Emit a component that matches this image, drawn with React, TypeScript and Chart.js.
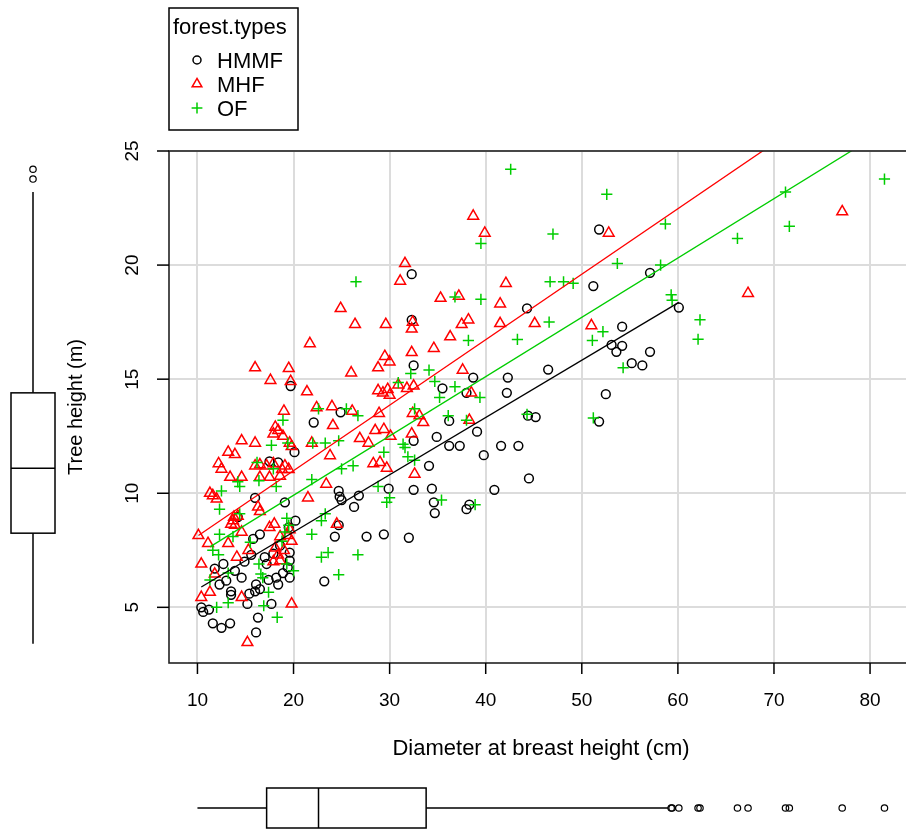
import React, { useEffect, useRef } from "react";
import { Chart, registerables } from "chart.js";

Chart.register(...registerables);

// ---- data: [DBH (cm), tree height (m)] per forest type ----
const groupNames = ["HMMF", "MHF", "OF"];

const hmmf: [number, number][] = [
  [19.7, 14.7], [24.9, 13.55], [22.1, 13.1], [20.1, 11.8], [17.5, 11.4], [18.4, 11.35], [16.0, 9.8], [19.1, 9.6],
  [24.7, 10.1], [24.8, 9.85], [25.0, 9.7], [26.8, 9.9], [26.3, 9.4], [29.9, 10.2], [20.2, 8.8], [19.5, 8.5],
  [24.7, 8.6], [24.3, 8.1], [27.6, 8.1], [29.4, 8.2], [32.0, 8.05], [16.5, 8.2], [14.2, 8.95], [15.6, 7.3],
  [17.0, 7.2], [17.9, 7.35], [19.6, 7.4], [19.6, 7.05], [19.4, 6.75], [12.7, 6.9], [11.8, 6.7], [13.0, 6.17],
  [13.5, 5.7], [13.5, 5.55], [15.4, 5.6], [15.2, 5.15], [16.1, 6.0], [16.5, 5.8], [16.0, 5.7], [17.4, 6.2],
  [18.4, 6.0], [18.2, 6.3], [19.6, 6.3], [17.7, 5.15], [23.2, 6.14], [10.4, 5.0], [10.6, 4.8], [11.2, 4.9],
  [11.6, 4.3], [12.5, 4.1], [13.4, 4.3], [16.3, 4.55], [16.1, 3.9], [14.9, 7.0], [13.9, 6.6], [18.9, 6.5],
  [17.2, 6.9], [15.8, 8.0], [18.6, 7.7], [12.3, 6.0], [14.6, 6.3],
  [51.8, 21.56], [32.3, 19.6], [57.1, 19.66], [51.2, 19.08], [44.3, 18.1], [32.3, 17.6], [54.2, 17.3], [53.1, 16.5],
  [54.2, 16.46], [53.6, 16.2], [55.2, 15.7], [56.3, 15.6], [57.1, 16.2], [32.5, 15.6], [38.7, 15.07], [42.3, 15.07],
  [46.5, 15.42], [35.5, 14.6], [38.0, 14.4], [42.2, 14.4], [52.5, 14.34], [36.2, 13.17], [45.2, 13.34], [44.4, 13.4],
  [51.8, 13.14], [32.5, 12.3], [34.9, 12.47], [36.2, 12.08], [37.3, 12.08], [39.1, 12.7], [39.8, 11.67], [41.6, 12.08],
  [43.4, 12.08], [34.1, 11.2], [44.5, 10.65], [40.9, 10.15], [32.5, 10.15], [34.4, 10.2], [34.6, 9.6], [34.7, 9.13],
  [38.0, 9.3], [38.3, 9.5], [60.1, 18.14],
];

const mhf: [number, number][] = [
  [31.6, 20.07], [31.1, 19.3], [24.9, 18.1], [26.4, 17.4], [29.6, 17.4], [21.7, 16.56], [29.5, 16.0], [30.0, 15.76],
  [28.8, 15.5], [16.0, 15.5], [19.5, 15.47], [17.6, 14.95], [26.0, 15.28], [19.7, 14.9],
  [21.4, 14.45], [28.8, 14.5], [29.3, 14.4], [29.8, 14.55], [30.0, 14.3], [30.9, 14.75], [19.0, 13.6], [22.4, 13.75],
  [24.0, 13.8], [26.1, 13.6], [24.1, 12.97], [28.9, 13.5], [18.1, 12.9], [18.4, 12.75], [17.9, 12.6], [18.9, 12.5],
  [14.6, 12.3], [16.0, 12.2], [19.6, 12.2], [19.8, 12.05], [21.9, 12.2], [23.8, 11.65], [26.9, 12.4], [27.8, 12.2],
  [28.5, 12.75], [29.4, 12.8], [30.1, 12.5], [13.2, 11.8], [13.9, 11.7], [12.2, 11.3], [12.5, 11.06], [16.0, 11.2],
  [16.5, 11.25], [17.2, 11.2], [17.9, 11.3], [19.1, 11.2], [19.5, 11.05], [18.8, 11.05], [13.4, 10.7], [11.6, 9.9],
  [12.0, 9.75], [14.6, 10.7], [16.5, 10.7], [17.5, 10.7], [18.6, 10.75], [23.4, 10.4], [21.5, 9.8], [29.0, 11.35],
  [29.7, 11.1], [28.3, 11.3], [13.7, 8.8], [13.8, 8.95], [13.5, 8.65], [16.3, 9.4], [16.5, 9.2], [14.6, 8.3],
  [10.1, 8.15], [11.1, 7.8], [13.2, 7.8], [14.1, 7.2], [15.3, 7.5], [17.5, 8.5], [18.0, 8.65], [18.6, 8.1],
  [19.4, 8.15], [19.8, 7.9], [17.9, 7.0], [18.6, 7.05], [24.5, 8.65], [10.4, 6.9], [11.8, 6.46], [11.3, 5.66],
  [10.4, 5.44], [14.6, 5.44], [19.8, 5.15], [15.2, 3.46], [18.1, 7.6], [19.0, 7.5], [18.4, 7.3], [19.6, 8.4],
  [13.9, 8.6], [14.2, 9.0], [11.3, 10.0],
  [38.7, 22.15], [39.9, 21.4], [52.8, 21.4], [42.1, 19.2], [37.2, 18.64], [35.3, 18.55], [41.5, 18.3], [38.2, 17.6],
  [37.5, 17.4], [32.4, 17.5], [32.3, 17.2], [41.5, 17.44], [45.1, 17.44], [51.0, 17.35], [36.3, 16.86], [32.3, 16.17],
  [34.6, 16.35], [37.6, 15.4], [32.5, 14.7], [31.8, 14.6], [38.5, 14.4], [32.4, 13.5], [33.1, 13.4], [33.5, 13.1],
  [38.3, 13.2], [32.3, 12.6], [32.6, 10.84], [77.1, 22.34], [67.3, 18.76],
];

const of: [number, number][] = [
  [26.5, 19.27], [30.9, 14.85], [22.6, 13.7], [25.5, 13.7], [26.7, 13.4], [18.9, 13.2], [17.7, 12.1], [19.4, 12.2],
  [22.0, 12.2], [23.3, 12.2], [24.7, 12.3], [29.4, 11.8], [31.6, 12.0], [16.2, 11.35], [14.2, 10.5], [14.4, 10.3],
  [12.5, 10.1], [16.4, 10.55], [18.2, 10.3], [17.9, 11.07], [21.9, 10.6], [25.0, 11.07], [26.2, 11.2], [28.8, 10.3],
  [30.0, 9.8], [29.7, 9.6], [12.3, 9.3], [14.4, 9.1], [12.3, 8.2], [12.2, 7.3], [13.7, 8.1], [15.5, 7.85],
  [19.3, 8.9], [19.1, 8.3], [18.8, 7.9], [21.9, 8.2], [22.9, 8.8], [23.3, 9.1], [11.6, 7.5], [11.3, 6.2],
  [13.2, 6.5], [16.4, 6.9], [16.6, 6.46], [16.8, 6.3], [19.3, 6.9], [20.0, 6.6], [22.9, 7.2], [23.6, 7.4],
  [26.7, 7.3], [24.7, 6.43], [12.0, 5.0], [13.2, 5.2], [16.9, 5.07], [17.4, 5.66], [18.3, 4.56], [19.5, 8.6],
  [42.6, 24.2], [52.6, 23.1], [39.5, 20.95], [47.0, 21.36], [53.7, 20.07], [46.7, 19.27], [48.1, 19.27], [49.1, 19.2],
  [36.8, 18.6], [39.5, 18.5], [46.6, 17.5], [52.2, 17.08], [51.1, 16.7], [38.2, 16.7], [43.3, 16.74], [54.3, 15.5],
  [34.1, 15.4], [32.2, 15.25], [34.7, 14.9], [36.8, 14.67], [35.2, 14.2], [39.4, 14.2], [36.1, 13.4], [38.0, 13.2],
  [44.3, 13.46], [51.2, 13.3], [32.6, 13.7], [31.4, 12.15], [31.9, 11.6], [32.6, 11.45], [35.4, 9.7], [38.9, 9.5],
  [81.5, 23.77], [71.2, 23.2], [71.6, 21.7], [58.7, 21.8], [66.2, 21.17], [58.2, 20.0], [59.3, 18.7], [59.4, 18.46],
  [62.3, 17.6], [62.1, 16.75],
];

// per-group linear fits (intercept, slope)
const fitIntercepts = [3.28, 5.25, 4.71];
const fitSlopes = [0.251, 0.287, 0.26];

// marginal boxplot five-number summaries (lower whisker, Q1, median, Q3, upper whisker)
const dbhBox = [10.0, 17.2, 22.6, 33.8, 59.0];
const heightBox = [3.4, 8.25, 11.1, 14.4, 23.2];

const xTicks = [10, 20, 30, 40, 50, 60, 70, 80];
const yTicks = [5, 10, 15, 20, 25];
const xTitle = "Diameter at breast height (cm)";
const yTitle = "Tree height (m)";
const legendTitle = "forest.types";

const colors = ["#000000", "#ff0000", "#00cd00"];
const styles = ["circle", "triangle", "cross"];
const radii = [4.4, 6.2, 5.6];
const legendRadii = [4, 5.6, 5.4];

const FONT = "'Liberation Sans', Arial, Helvetica, sans-serif";

function drawText(ctx: CanvasRenderingContext2D, s: string, x: number, y: number, size: number,
  align: CanvasTextAlign, baseline: CanvasTextBaseline, rot = 0) {
  ctx.save();
  ctx.translate(x, y);
  if (rot) ctx.rotate(rot);
  ctx.font = `${size}px ${FONT}`;
  ctx.fillStyle = "#000";
  ctx.textAlign = align;
  ctx.textBaseline = baseline;
  ctx.fillText(s, 0, 0);
  ctx.restore();
}

function drawSymbol(ctx: CanvasRenderingContext2D, kind: number, x: number, y: number) {
  ctx.save();
  ctx.strokeStyle = colors[kind];
  ctx.lineWidth = 1.5;
  ctx.beginPath();
  const r = legendRadii[kind];
  if (kind === 0) {
    ctx.arc(x, y, r, 0, Math.PI * 2);
  } else if (kind === 1) {
    const a = 0;
    ctx.moveTo(x + Math.sin(a) * r, y - Math.cos(a) * r);
    ctx.lineTo(x + Math.sin(a + 2.0944) * r, y - Math.cos(a + 2.0944) * r);
    ctx.lineTo(x + Math.sin(a + 4.1888) * r, y - Math.cos(a + 4.1888) * r);
    ctx.closePath();
  } else {
    ctx.moveTo(x - r, y); ctx.lineTo(x + r, y);
    ctx.moveTo(x, y - r); ctx.lineTo(x, y + r);
  }
  ctx.stroke();
  ctx.restore();
}

const decorPlugin = {
  id: "rDecor",
  afterDatasetsDraw(chart: any) {
    const { ctx, chartArea } = chart;
    ctx.save();
    ctx.strokeStyle = "#222";
    ctx.lineWidth = 1.6;
    ctx.strokeRect(chartArea.left, chartArea.top, chartArea.right - chartArea.left + 20, chartArea.bottom - chartArea.top);
    ctx.restore();
  },
  afterDraw(chart: any) {
    const { ctx, chartArea } = chart;
    const xs = chart.scales.x;
    const ys = chart.scales.y;
    ctx.save();
    ctx.strokeStyle = "#000";
    ctx.lineWidth = 1.5;
    // x tick marks and labels
    xTicks.forEach((v) => {
      const px = xs.getPixelForValue(v);
      ctx.beginPath();
      ctx.moveTo(px, chartArea.bottom);
      ctx.lineTo(px, chartArea.bottom + 11);
      ctx.stroke();
      drawText(ctx, String(v), px, 706, 19, "center", "alphabetic");
    });
    // y tick marks and labels
    yTicks.forEach((v) => {
      const py = ys.getPixelForValue(v);
      ctx.beginPath();
      ctx.moveTo(chartArea.left - 12, py);
      ctx.lineTo(chartArea.left, py);
      ctx.stroke();
      drawText(ctx, String(v), 138, py, 19, "center", "alphabetic", -Math.PI / 2);
    });
    // axis titles
    drawText(ctx, xTitle, 541, 755, 22, "center", "alphabetic");
    drawText(ctx, yTitle, 82, (chartArea.top + chartArea.bottom) / 2, 20, "center", "alphabetic", -Math.PI / 2);

    // legend
    ctx.lineWidth = 1.5;
    ctx.strokeStyle = "#000";
    ctx.strokeRect(169, 8, 129, 122);
    drawText(ctx, legendTitle, 173, 34, 22, "left", "alphabetic");
    groupNames.forEach((g, i) => {
      const cy = 60 + i * 24;
      drawSymbol(ctx, i, 197, cy);
      drawText(ctx, g, 217, cy + 7.5, 22, "left", "alphabetic");
    });

    // marginal boxplot for tree height (left)
    const allY = [...hmmf, ...mhf, ...of].map((p) => p[1]);
    const allX = [...hmmf, ...mhf, ...of].map((p) => p[0]);
    ctx.strokeStyle = "#000";
    ctx.lineWidth = 1.5;
    const bx = 33, bh = 22;
    const yp = heightBox.map((v) => ys.getPixelForValue(v));
    ctx.beginPath();
    ctx.moveTo(bx, yp[0]); ctx.lineTo(bx, yp[1]);
    ctx.moveTo(bx, yp[3]); ctx.lineTo(bx, yp[4]);
    ctx.stroke();
    ctx.strokeRect(bx - bh, yp[3], bh * 2, yp[1] - yp[3]);
    ctx.beginPath();
    ctx.moveTo(bx - bh, yp[2]); ctx.lineTo(bx + bh, yp[2]);
    ctx.stroke();
    ctx.lineWidth = 1.2;
    allY.filter((v) => v > heightBox[4] || v < heightBox[0]).forEach((v) => {
      ctx.beginPath();
      ctx.arc(bx, ys.getPixelForValue(v), 3.2, 0, Math.PI * 2);
      ctx.stroke();
    });

    // marginal boxplot for DBH (bottom)
    ctx.lineWidth = 1.5;
    const by = 808, bw = 20;
    const xp = dbhBox.map((v) => xs.getPixelForValue(v));
    ctx.beginPath();
    ctx.moveTo(xp[0], by); ctx.lineTo(xp[1], by);
    ctx.moveTo(xp[3], by); ctx.lineTo(xp[4], by);
    ctx.stroke();
    ctx.strokeRect(xp[1], by - bw, xp[3] - xp[1], bw * 2);
    ctx.beginPath();
    ctx.moveTo(xp[2], by - bw); ctx.lineTo(xp[2], by + bw);
    ctx.stroke();
    ctx.lineWidth = 1.2;
    allX.filter((v) => v > dbhBox[4] || v < dbhBox[0]).forEach((v) => {
      ctx.beginPath();
      ctx.arc(xs.getPixelForValue(v), by, 3.2, 0, Math.PI * 2);
      ctx.stroke();
    });
    ctx.restore();
  },
};

export default function App() {
  const ref = useRef<HTMLCanvasElement | null>(null);
  useEffect(() => {
    document.body.style.margin = "0";
    document.body.style.overflow = "hidden";
    const canvas = ref.current!;
    const groups = [hmmf, mhf, of];
    const scatterSets = groups.map((g, i) => ({
      type: "scatter" as const,
      label: groupNames[i],
      data: g.map((p) => ({ x: p[0], y: p[1] })),
      pointStyle: styles[i],
      pointRadius: radii[i],
      borderColor: colors[i],
      backgroundColor: "rgba(0,0,0,0)",
      borderWidth: 1.5,
      order: 3 + (2 - i),
    }));
    const lineSets = groups.map((g, i) => {
      const xsG = g.map((p) => p[0]);
      const lo = Math.min(...xsG);
      const hi = Math.max(...xsG);
      return {
        type: "line" as const,
        label: groupNames[i] + " fit",
        data: [lo, hi].map((x) => ({ x, y: fitIntercepts[i] + fitSlopes[i] * x })),
        borderColor: colors[i],
        borderWidth: 1.3,
        pointRadius: 0,
        fill: false,
        order: 0,
      };
    });
    const gridOpts = { color: "#dcdcdc", lineWidth: 2, drawTicks: false };
    const chart = new Chart(canvas, {
      type: "scatter",
      data: { datasets: [...scatterSets, ...lineSets] as any },
      options: {
        animation: false,
        responsive: false,
        devicePixelRatio: 1,
        layout: { autoPadding: false, padding: { left: 169, top: 151, right: 0, bottom: 166 } },
        plugins: { legend: { display: false }, tooltip: { enabled: false } },
        scales: {
          x: {
            type: "linear", min: 7.04, max: 83.74,
            ticks: { display: false }, grid: gridOpts, border: { display: false },
            afterBuildTicks: (s: any) => { s.ticks = xTicks.map((v) => ({ value: v })); },
          },
          y: {
            type: "linear", min: 2.56, max: 25.0,
            ticks: { display: false }, grid: gridOpts, border: { display: false },
            afterBuildTicks: (s: any) => { s.ticks = yTicks.map((v) => ({ value: v })); },
          },
        },
      },
      plugins: [decorPlugin],
    });
    return () => chart.destroy();
  }, []);
  return (
    <div style={{ width: 906, height: 829, background: "#fff" }}>
      <canvas ref={ref} width={906} height={829} style={{ display: "block", width: 906, height: 829 }} />
    </div>
  );
}
